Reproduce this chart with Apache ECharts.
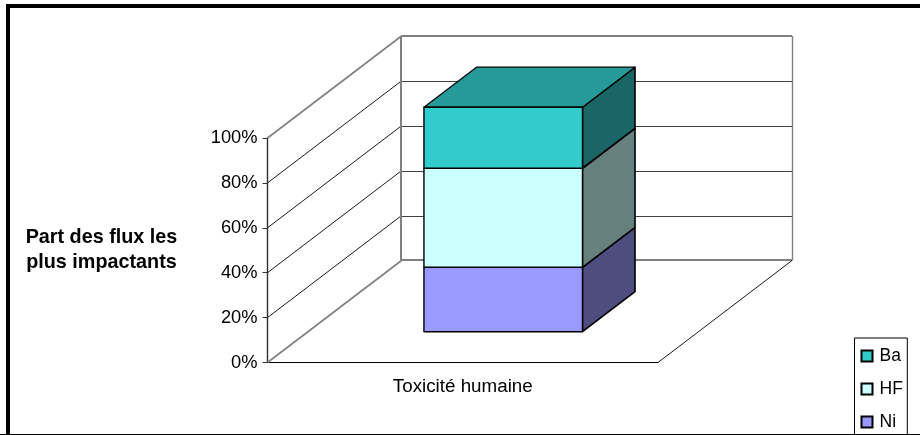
<!DOCTYPE html>
<html><head><meta charset="utf-8">
<style>html,body{margin:0;padding:0;background:#fff}#c{width:920px;height:435px}</style>
<script src="https://cdn.jsdelivr.net/npm/echarts@6/dist/echarts.min.js"></script>
</head><body><div id="c"></div>
<script>
const categories = ['Toxicité humaine'];
const seriesNames = ['Ni', 'HF', 'Ba'];
const niValues = [28.7];
const hfValues = [44.1];
const baValues = [27.2];
const gridTicks = [0, 20, 40, 60, 80, 100];
const legendOrder = ['Ba', 'HF', 'Ni'];
const axisTitle = 'Part des flux les\nplus impactants';

const values = [niValues[0], hfValues[0], baValues[0]];
const fronts = ['#9999FF', '#CCFFFF', '#33CCCC'];
const sides = ['#4D4D80', '#668080', '#1A6666'];
const tops = ['#7373BF', '#99BFBF', '#269999'];
const DEPTH_X = 134, DEPTH_Y = -102;      // projection of the chart's depth
const BAR_W = 0.406, BAR_D0 = 0.302, BAR_D1 = 0.694;
const FONT = '"Liberation Sans", Arial, sans-serif';

function project(api, xFrac, depth, v) {
  const p = api.coord([0, v]);
  const band = api.size([1, 0])[0];
  return [p[0] + xFrac * band + depth * DEPTH_X, p[1] + depth * DEPTH_Y];
}
function poly(points, fill, stroke, w) {
  return { type: 'polygon', shape: { points }, style: { fill, stroke, lineWidth: w, lineJoin: 'round' } };
}
function line(a, b, stroke, w) {
  return { type: 'line', shape: { x1: a[0], y1: a[1], x2: b[0], y2: b[1] }, style: { stroke, lineWidth: w } };
}
function renderWalls(params, api) {
  const ch = [];
  const G = '#808080', D = '#1a1a1a';
  gridTicks.forEach(t => {
    const edge = t === 0 || t === 100;
    const fl = project(api, -0.5, 0, t), bl = project(api, -0.5, 1, t), br = project(api, 0.5, 1, t);
    const y = edge ? Math.floor(bl[1]) : Math.round(bl[1]) + 0.5;
    ch.push(line([bl[0], y], [br[0], y], edge ? G : '#404040', edge ? 2 : 1));
    ch.push(line(fl, bl, edge ? G : D, edge ? 1.6 : 1));
  });
  const backL = project(api, -0.5, 1, 0), backLT = project(api, -0.5, 1, 100);
  const backR = project(api, 0.5, 1, 0), backRT = project(api, 0.5, 1, 100);
  ch.push(line([Math.floor(backL[0]), backL[1]], [Math.floor(backLT[0]), backLT[1]], G, 2));
  ch.push(line([Math.floor(backR[0]) + 0.5, backR[1]], [Math.floor(backRT[0]) + 0.5, backRT[1]], G, 1.4));
  ch.push(line(project(api, 0.5, 0, 0), backR, D, 1));
  return { type: 'group', children: ch };
}
function renderSegment(i) {
  return function (params, api) {
    const start = values.slice(0, i).reduce((a, b) => a + b, 0);
    const end = start + values[i];
    const L = -BAR_W / 2, R = BAR_W / 2;
    const s = '#000';
    const ch = [];
    ch.push(poly([project(api, R, BAR_D0, start), project(api, R, BAR_D1, start), project(api, R, BAR_D1, end), project(api, R, BAR_D0, end)], sides[i], s, 1.6));
    if (i === values.length - 1) {
      ch.push(poly([project(api, L, BAR_D0, end), project(api, R, BAR_D0, end), project(api, R, BAR_D1, end), project(api, L, BAR_D1, end)], tops[i], s, 1.2));
    }
    ch.push(poly([project(api, L, BAR_D0, start), project(api, R, BAR_D0, start), project(api, R, BAR_D0, end), project(api, L, BAR_D0, end)], fronts[i], s, 1.4));
    return { type: 'group', children: ch };
  };
}

const chart = echarts.init(document.getElementById('c'), null, { renderer: 'canvas' });
chart.setOption({
  animation: false,
  backgroundColor: '#fff',
  grid: { left: 267.5, right: 262, top: 138, bottom: 72.5, containLabel: false },
  legend: {
    data: legendOrder, orient: 'vertical', left: 854.5, top: 338,
    width: 60, height: 200,
    padding: [9, 4.5, 6, 6], itemGap: 15, itemWidth: 11, itemHeight: 11,
    borderColor: '#000', borderWidth: 1, backgroundColor: '#fff',
    selectedMode: false, icon: 'rect',
    textStyle: { fontFamily: FONT, fontSize: 17.5, color: '#000', padding: [0, 0, 0, 2] }
  },
  xAxis: {
    type: 'category', data: categories,
    axisLine: { lineStyle: { color: '#000', width: 1 } },
    axisTick: { length: 5, lineStyle: { color: '#808080' } },
    axisLabel: { fontFamily: FONT, fontSize: 18.8, color: '#000', margin: 15 }
  },
  yAxis: {
    type: 'value', min: 0, max: 100, interval: 20,
    name: axisTitle, nameLocation: 'middle', nameGap: 166, nameRotate: 0,
    nameTextStyle: { fontFamily: FONT, fontSize: 19.8, fontWeight: 'bold', color: '#000', lineHeight: 25, align: 'center', verticalAlign: 'middle' },
    axisLine: { show: true, lineStyle: { color: '#303030', width: 1.4 } },
    axisTick: { show: true, length: 5, lineStyle: { color: '#303030' } },
    splitLine: { show: false },
    axisLabel: { fontFamily: FONT, fontSize: 18.3, color: '#000', margin: 10, formatter: '{value}%' }
  },
  graphic: [{
    type: 'polyline', z: -1, silent: true,
    shape: { points: [[8, 435], [8, 6], [920, 6]] },
    style: { fill: null, stroke: '#000', lineWidth: 4 }
  }, {
    type: 'line', z: 100, silent: true,
    shape: { x1: 0, y1: 434.5, x2: 920, y2: 434.5 },
    style: { stroke: '#000', lineWidth: 1 }
  }],
  series: [
    { type: 'custom', name: 'walls', z: 1, silent: true, renderItem: renderWalls, data: [[0, 0]], encode: { x: 0, y: 1 } },
    ...seriesNames.map((n, i) => ({
      type: 'custom', name: n, z: 2 + i, silent: true,
      renderItem: renderSegment(i),
      itemStyle: { color: fronts[i], borderColor: '#000', borderWidth: 2 },
      data: [[0, values[i]]], encode: { x: 0, y: 1 }
    }))
  ]
});
</script></body></html>
